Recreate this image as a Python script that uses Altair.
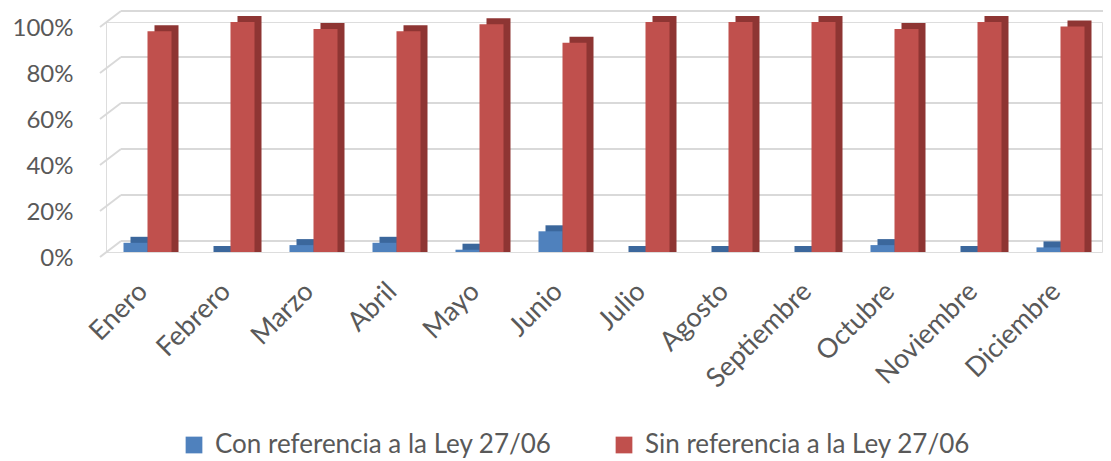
import altair as alt
import pandas as pd

months = ["Enero", "Febrero", "Marzo", "Abril", "Mayo", "Junio", "Julio",
          "Agosto", "Septiembre", "Octubre", "Noviembre", "Diciembre"]
con_ref = [4, 0, 3, 4, 1, 9, 0, 0, 0, 3, 0, 2]
sin_ref = [96, 100, 97, 96, 99, 91, 100, 100, 100, 97, 100, 98]
series = ["Con referencia a la Ley 27/06", "Sin referencia a la Ley 27/06"]
grid_vals = [0, 0.2, 0.4, 0.6, 0.8, 1.0]

rows = []
for m, c, s in zip(months, con_ref, sin_ref):
    rows.append({"Mes": m, "Serie": series[0], "v": c / 100})
    rows.append({"Mes": m, "Serie": series[1], "v": s / 100})
df = pd.DataFrame(rows)
gdf = pd.DataFrame({"g": grid_vals})

FONT = "Lato"
TXT = "#595959"
BLUE, BLUE_D = "#4F81BD", "#3B679C"
RED, RED_D = "#C0504D", "#8E3533"
GRID = "#D9D9D9"

yscale = alt.Scale(domain=[0, 1], nice=False)
xenc = alt.X("Mes:N", sort=months, title=None,
             scale=alt.Scale(paddingInner=0, paddingOuter=0),
             axis=alt.Axis(labelAngle=-45, labelAlign="right", labelBaseline="middle",
                           labelFont=FONT, labelFontSize=27, labelColor=TXT,
                           labelPadding=35, labelOffset=-4,
                           domain=False, ticks=False, grid=False))
yenc = alt.Y("v:Q", scale=yscale, title=None,
             axis=alt.Axis(values=grid_vals, format=".0%", labelFont=FONT,
                           labelFontSize=24, labelColor=TXT, labelPadding=33,
                           labelOffset=6, domain=False, ticks=False, grid=False))

grid_h = alt.Chart(gdf).mark_rule(color=GRID, strokeWidth=2, yOffset=-11).encode(
    y=alt.Y("g:Q", scale=yscale), x=alt.value(15), x2=alt.value(997))
grid_d = alt.Chart(gdf).mark_rule(color=GRID, strokeWidth=2, yOffset=5, y2Offset=-11).encode(
    y=alt.Y("g:Q", scale=yscale), y2="g:Q", x=alt.value(-6), x2=alt.value(15))

base = alt.Chart(df)
color = alt.Color("Serie:N", scale=alt.Scale(domain=series, range=[BLUE, RED]),
                  legend=alt.Legend(title=None, orient="none", direction="horizontal",
                                    legendX=75, legendY=410, symbolType="square",
                                    symbolSize=280, symbolStrokeWidth=0,
                                    labelFont=FONT, labelFontSize=26, labelColor=TXT,
                                    labelLimit=0, labelOffset=8, columnPadding=59,
                                    padding=0))

blue_sh = base.transform_filter(alt.datum.Serie == series[0]).mark_bar(
    width=24, xOffset=-5, yOffset=-6, y2Offset=0, color=BLUE_D).encode(
    x=xenc, y=yenc, y2=alt.datum(0))
blue_fr = base.transform_filter(alt.datum.Serie == series[0]).mark_bar(
    width=24, xOffset=-12).encode(x=xenc, y=yenc, color=color)
red_sh = base.transform_filter(alt.datum.Serie == series[1]).mark_bar(
    width=24, xOffset=19, yOffset=-6, y2Offset=0, color=RED_D).encode(
    x=xenc, y=yenc, y2=alt.datum(0))
red_fr = base.transform_filter(alt.datum.Serie == series[1]).mark_bar(
    width=24, xOffset=12).encode(x=xenc, y=yenc, color=color)

chart = alt.layer(grid_h, grid_d, blue_sh, blue_fr, red_sh, red_fr).properties(
    width=996, height=230,
    autosize=alt.AutoSizeParams(type="none"),
    padding={"left": 98, "top": 14, "right": 1, "bottom": 208},
).configure_view(stroke=None).configure(background="white")

chart.save("out.html", embed_options={"renderer": "svg", "actions": False})
